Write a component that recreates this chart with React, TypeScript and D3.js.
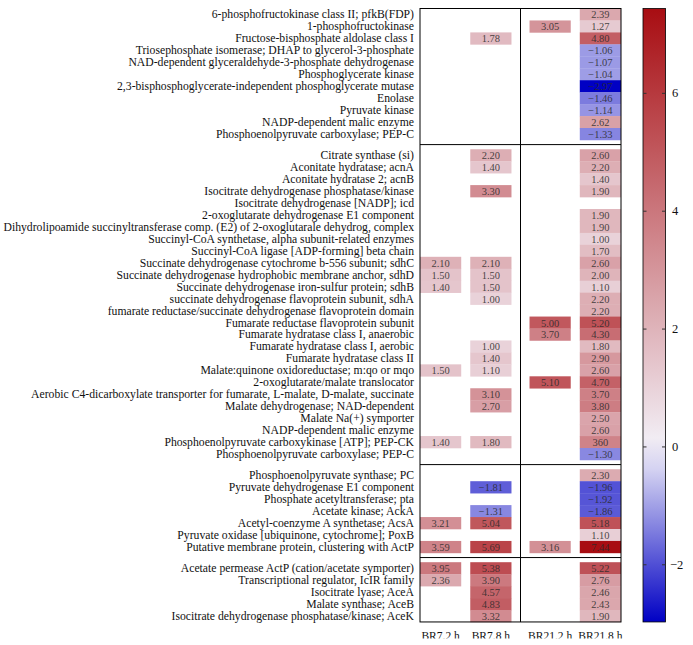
import { useEffect, useRef } from "react";
import * as d3 from "d3";

const columns = ["BR7.2 h", "BR7.8 h", "BR21.2 h", "BR21.8 h"];

// glycolysis block
const glycolysisLabels = [
  "6-phosphofructokinase class II; pfkB(FDP)",
  "1-phosphofructokinase",
  "Fructose-bisphosphate aldolase class I",
  "Triosephosphate isomerase; DHAP to glycerol-3-phosphate",
  "NAD-dependent glyceraldehyde-3-phosphate dehydrogenase",
  "Phosphoglycerate kinase",
  "2,3-bisphosphoglycerate-independent phosphoglycerate mutase",
  "Enolase",
  "Pyruvate kinase",
  "NADP-dependent malic enzyme",
  "Phosphoenolpyruvate carboxylase; PEP-C",
];
const glycolysisValues = [
  [null, null, null, 2.39],
  [null, null, 3.05, 1.27],
  [null, 1.78, null, 4.8],
  [null, null, null, -1.06],
  [null, null, null, -1.07],
  [null, null, null, -1.04],
  [null, null, null, -2.97],
  [null, null, null, -1.46],
  [null, null, null, -1.14],
  [null, null, null, 2.62],
  [null, null, null, -1.33],
];

// TCA cycle block
const tcaLabels = [
  "Citrate synthase (si)",
  "Aconitate hydratase; acnA",
  "Aconitate hydratase 2; acnB",
  "Isocitrate dehydrogenase phosphatase/kinase",
  "Isocitrate dehydrogenase [NADP]; icd",
  "2-oxoglutarate dehydrogenase E1 component",
  "Dihydrolipoamide succinyltransferase comp. (E2) of 2-oxoglutarale dehydrog, complex",
  "Succinyl-CoA synthetase, alpha subunit-related enzymes",
  "Succinyl-CoA ligase [ADP-forming] beta chain",
  "Succinate dehydrogenase cytochrome b-556 subunit; sdhC",
  "Succinate dehydrogenase hydrophobic membrane anchor, sdhD",
  "Succinate dehydrogenase iron-sulfur protein; sdhB",
  "succinate dehydrogenase flavoprotein subunit, sdhA",
  "fumarate reductase/succinate dehydrogenase flavoprotein domain",
  "Fumarate reductase flavoprotein subunit",
  "Fumarate hydratase class I, anaerobic",
  "Fumarate hydratase class I, aerobic",
  "Fumarate hydratase class II",
  "Malate:quinone oxidoreductase; m:qo or mqo",
  "2-oxoglutarate/malate translocator",
  "Aerobic C4-dicarboxylate transporter for fumarate, L-malate, D-malate, succinate",
  "Malate dehydrogenase; NAD-dependent",
  "Malate Na(+) symporter",
  "NADP-dependent malic enzyme",
  "Phosphoenolpyruvate carboxykinase [ATP]; PEP-CK",
  "Phosphoenolpyruvate carboxylase; PEP-C",
];
const tcaValues = [
  [null, 2.2, null, 2.6],
  [null, 1.4, null, 2.2],
  [null, null, null, 1.4],
  [null, 3.3, null, 1.9],
  [null, null, null, null],
  [null, null, null, 1.9],
  [null, null, null, 1.9],
  [null, null, null, 1.0],
  [null, null, null, 1.7],
  [2.1, 2.1, null, 2.6],
  [1.5, 1.5, null, 2.0],
  [1.4, 1.5, null, 1.1],
  [null, 1.0, null, 2.2],
  [null, null, null, 2.2],
  [null, null, 5.0, 5.2],
  [null, null, 3.7, 4.3],
  [null, 1.0, null, 1.8],
  [null, 1.4, null, 2.9],
  [1.5, 1.1, null, 2.6],
  [null, null, 5.1, 4.7],
  [null, 3.1, null, 3.7],
  [null, 2.7, null, 3.8],
  [null, null, null, 2.5],
  [null, null, null, 2.6],
  [1.4, 1.8, null, 3.6],
  [null, null, null, -1.3],
];

// pyruvate / acetate block
const acetateLabels = [
  "Phosphoenolpyruvate synthase; PC",
  "Pyruvate dehydrogenase E1 component",
  "Phosphate acetyltransferase; pta",
  "Acetate kinase; AckA",
  "Acetyl-coenzyme A synthetase; AcsA",
  "Pyruvate oxidase [ubiquinone, cytochrome]; PoxB",
  "Putative membrane protein, clustering with ActP",
];
const acetateValues = [
  [null, null, null, 2.3],
  [null, -1.81, null, -1.96],
  [null, null, null, -1.92],
  [null, -1.31, null, -1.86],
  [3.21, 5.04, null, 5.18],
  [null, null, null, 1.1],
  [3.59, 5.69, 3.16, 7.44],
];

// glyoxylate shunt block
const glyoxylateLabels = [
  "Acetate permease ActP (cation/acetate symporter)",
  "Transcriptional regulator, IcIR family",
  "Isocitrate lyase; AceA",
  "Malate synthase; AceB",
  "Isocitrate dehydrogenase phosphatase/kinase; AceK",
];
const glyoxylateValues = [
  [3.95, 5.38, null, 5.22],
  [2.36, 3.9, null, 2.76],
  [null, 4.57, null, 2.46],
  [null, 4.83, null, 2.43],
  [null, 3.32, null, 1.9],
];

const colorTicks = [-2, 0, 2, 4, 6];

// the source figure prints "360" in one cell (value 3.60)
const textOverrides = [{ group: 1, row: 24, col: 3, text: "360" }];

const App = () => {
  const svgRef = useRef(null);

  useEffect(() => {
    const svg = d3.select(svgRef.current);
    svg.selectAll("*").remove();

    const font = "'Liberation Serif', 'DejaVu Serif', serif";
    const left = 420;
    const right = 621;
    const top = 8.5;
    const rowH = 11.95;
    const gap = 9.3;
    const groupShift = 9; // extra space between the BR7 and BR21 pairs

    const groups = [
      { labels: glycolysisLabels, values: glycolysisValues },
      { labels: tcaLabels, values: tcaValues },
      { labels: acetateLabels, values: acetateValues },
      { labels: glyoxylateLabels, values: glyoxylateValues },
    ];
    const rows = groups.flatMap((g, gi) =>
      g.labels.map((label, ri) => ({ id: `${gi}-${ri}`, label, gi, ri, values: g.values[ri] }))
    );

    const y = d3
      .scaleBand()
      .domain(rows.map((r) => r.id))
      .range([0, rows.length * rowH]);
    const rowTop = (r) => top + y(r.id) + r.gi * gap;
    const bottom = top + rows.length * rowH + (groups.length - 1) * gap;

    const x = d3
      .scaleBand()
      .domain(columns)
      .range([left, right - groupShift])
      .paddingInner(0.18);
    const colX = (c) => x(c) + (columns.indexOf(c) >= 2 ? groupShift : 0);
    const bw = x.bandwidth();

    const allValues = rows.flatMap((r) => r.values).filter((v) => v != null);
    const vMin = d3.min(allValues);
    const vMax = d3.max(allValues);
    const color = d3
      .scaleLinear()
      .domain([vMin, 0, vMax])
      .range(["#0000c4", "#f3f1f8", "#a80d12"])
      .interpolate(d3.interpolateRgb);
    const fmt = d3.format(".2f");

    // cells
    const cells = rows.flatMap((r) =>
      r.values.map((v, ci) => ({ r, ci, v })).filter((d) => d.v != null)
    );
    svg
      .append("g")
      .selectAll("rect")
      .data(cells)
      .join("rect")
      .attr("x", (d) => colX(columns[d.ci]))
      .attr("y", (d) => rowTop(d.r))
      .attr("width", bw)
      .attr("height", rowH + 0.3)
      .attr("fill", (d) => color(d.v));

    svg
      .append("g")
      .selectAll("text")
      .data(cells)
      .join("text")
      .attr("x", (d) => colX(columns[d.ci]) + bw / 2)
      .attr("y", (d) => rowTop(d.r) + rowH / 2 + 0.5)
      .attr("text-anchor", "middle")
      .attr("dominant-baseline", "central")
      .attr("font-family", font)
      .attr("font-size", 10.5)
      .attr("fill", "#2a2a2a")
      .attr("fill-opacity", 0.85)
      .text((d) => {
        const o = textOverrides.find((t) => t.group === d.r.gi && t.row === d.r.ri && t.col === d.ci);
        return o ? o.text : fmt(d.v);
      });

    // row labels
    svg
      .append("g")
      .selectAll("text")
      .data(rows)
      .join("text")
      .attr("x", left - 6)
      .attr("y", (r) => rowTop(r) + rowH / 2 + 0.5)
      .attr("text-anchor", "end")
      .attr("dominant-baseline", "central")
      .attr("font-family", font)
      .attr("font-size", 11.7)
      .attr("fill", "#111")
      .text((r) => r.label);

    // frame, group separators and the divider between time series
    const frame = svg.append("g").attr("stroke", "#000").attr("fill", "none");
    frame
      .append("rect")
      .attr("x", left)
      .attr("y", top)
      .attr("width", right - left)
      .attr("height", bottom - top);
    groups.slice(1).forEach((g, i) => {
      const first = rows.find((r) => r.gi === i + 1);
      const yy = rowTop(first) - gap / 2;
      frame.append("line").attr("x1", left).attr("x2", right).attr("y1", yy).attr("y2", yy);
    });
    const divX = (colX(columns[1]) + bw + colX(columns[2])) / 2;
    frame.append("line").attr("x1", divX).attr("x2", divX).attr("y1", top).attr("y2", bottom);

    // column labels (bottom of the source image is cropped)
    svg
      .append("clipPath")
      .attr("id", "colclip")
      .append("rect")
      .attr("x", 0)
      .attr("y", 0)
      .attr("width", 693)
      .attr("height", 638.5);
    svg
      .append("g")
      .attr("clip-path", "url(#colclip)")
      .selectAll("text")
      .data(columns)
      .join("text")
      .attr("x", (c) => colX(c) + bw / 2)
      .attr("y", 639.5)
      .attr("text-anchor", "middle")
      .attr("font-family", font)
      .attr("font-size", 11.5)
      .attr("fill", "#111")
      .text((c) => c);

    // colour bar
    const cbX = 643;
    const cbW = 22.5;
    const cy = d3.scaleLinear().domain([vMin, vMax]).range([bottom, top]);
    const grad = svg
      .append("defs")
      .append("linearGradient")
      .attr("id", "cbgrad")
      .attr("x1", 0)
      .attr("x2", 0)
      .attr("y1", 1)
      .attr("y2", 0);
    grad
      .selectAll("stop")
      .data(d3.range(0, 1.0001, 0.05))
      .join("stop")
      .attr("offset", (t) => t)
      .attr("stop-color", (t) => color(vMin + t * (vMax - vMin)));
    svg
      .append("rect")
      .attr("x", cbX)
      .attr("y", top)
      .attr("width", cbW)
      .attr("height", bottom - top)
      .attr("fill", "url(#cbgrad)")
      .attr("stroke", "#000")
      .attr("stroke-width", 0.8);

    const ticks = svg.append("g").selectAll("g").data(colorTicks).join("g");
    ticks
      .append("line")
      .attr("x1", cbX)
      .attr("x2", cbX + 3.5)
      .attr("y1", (t) => cy(t))
      .attr("y2", (t) => cy(t))
      .attr("stroke", "#333");
    ticks
      .append("line")
      .attr("x1", cbX + cbW - 3.5)
      .attr("x2", cbX + cbW)
      .attr("y1", (t) => cy(t))
      .attr("y2", (t) => cy(t))
      .attr("stroke", "#333");
    ticks
      .append("text")
      .attr("x", (t) => (t < 0 ? cbX + 27 : cbX + 29))
      .attr("y", (t) => cy(t))
      .attr("dominant-baseline", "central")
      .attr("font-family", font)
      .attr("font-size", 12.5)
      .attr("fill", "#111")
      .text((t) => d3.format("d")(t));
  }, []);

  return (
    <svg
      ref={svgRef}
      width={693}
      height={645}
      style={{ position: "absolute", left: 0, top: 0, background: "#fff" }}
    />
  );
};

export default App;
